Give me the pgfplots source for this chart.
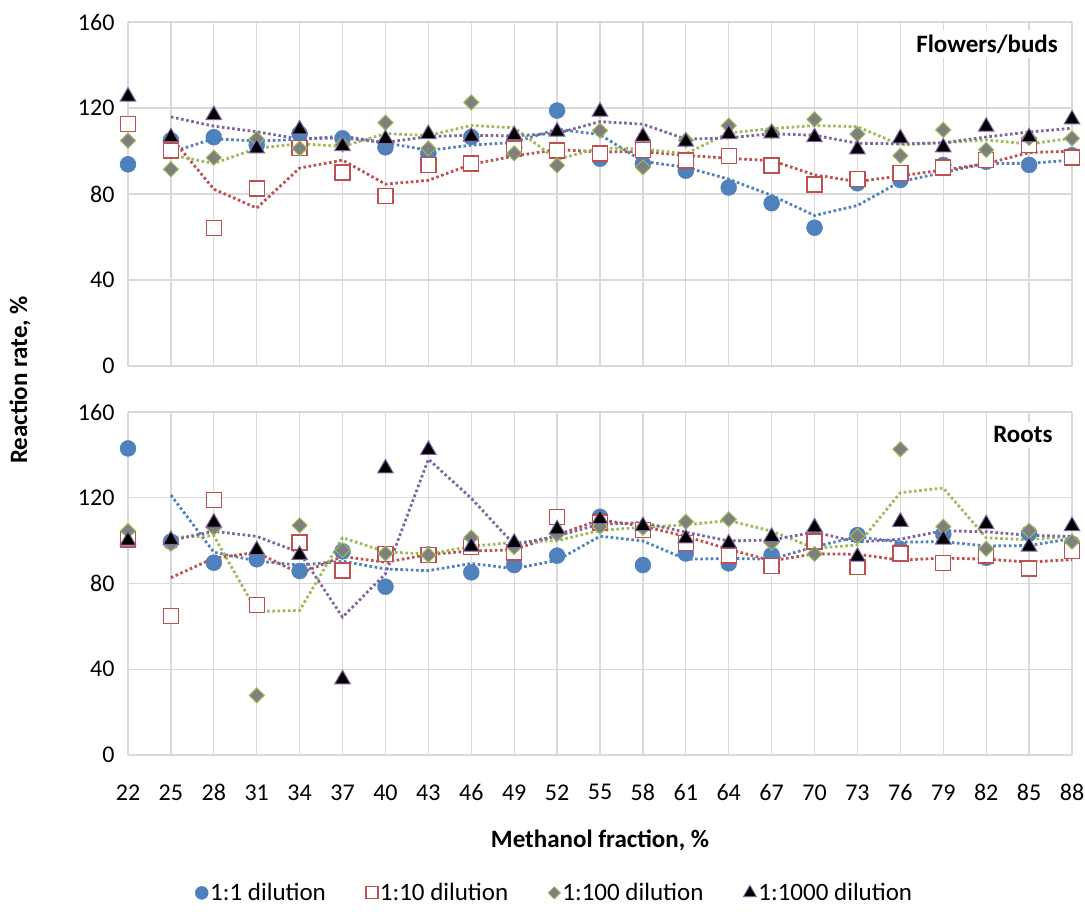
\documentclass[border=0pt]{standalone}
\usepackage{fontspec}
\setmainfont{Carlito}
\usepackage{pgfplots}
\usepackage{pgfplotstable}
\pgfplotsset{compat=1.18}
\definecolor{cblue}{HTML}{4F81BD}
\definecolor{cred}{HTML}{C0504D}
\definecolor{cgreen}{HTML}{9BBB59}
\definecolor{cpurple}{HTML}{8064A2}
\definecolor{cgray}{HTML}{7F7F7F}
\definecolor{gridc}{HTML}{D9D9D9}

% Flowers/buds
\pgfplotstableread{
x a b c d
22 93.8 112.6 104.8 125.3
25 105 100.2 91.5 106.4
28 106.4 64.3 96.9 116.7
31 102.8 82.6 105.6 101.2
34 108 101.5 101.2 110
37 105.9 90 103 102.3
40 101.7 79.2 113.2 105.6
43 98.9 93.5 101.2 107.9
46 106.5 94.1 122.6 106.7
49 101.5 101.2 98.9 107.4
52 118.8 100.2 93.3 109
55 96.4 98.9 109.5 118.3
58 94 100.5 92.4 106.7
61 90.8 95.5 105 104.3
64 83 97.7 111.8 107.9
67 75.7 93.3 109 108.2
70 64.3 84.5 114.7 106.4
73 85 87 107.9 100.8
76 86.5 89.9 97.8 105.9
79 93.5 92.4 109.8 101.7
82 95 95.8 100.5 111.3
85 93.5 102.8 106 106.4
88 98 97 105.9 114.7
}\topdata
% 2-period moving averages (Flowers/buds)
\pgfplotstableread{
x a b c d
25 99.4 106.4 98.15 115.85
28 105.7 82.25 94.2 111.55
31 104.6 73.45 101.25 108.95
34 105.4 92.05 103.4 105.6
37 106.95 95.75 102.1 106.15
40 103.8 84.6 108.1 103.95
43 100.3 86.35 107.2 106.75
46 102.7 93.8 111.9 107.3
49 104 97.65 110.75 107.05
52 110.15 100.7 96.1 108.2
55 107.6 99.55 101.4 113.65
58 95.2 99.7 100.95 112.5
61 92.4 98 98.7 105.5
64 86.9 96.6 108.4 106.1
67 79.35 95.5 110.4 108.05
70 70 88.9 111.85 107.3
73 74.65 85.75 111.3 103.6
76 85.75 88.45 102.85 103.35
79 90 91.15 103.8 103.8
82 94.25 94.1 105.15 106.5
85 94.25 99.3 103.25 108.85
88 95.75 99.9 105.95 110.55
}\topma
% Roots
\pgfplotstableread{
x a b c d
22 143 100.6 104.5 100
25 99.5 64.8 98.5 100.3
28 89.7 118.9 106 108.4
31 91.3 70.1 27.8 95.6
34 85.8 99.2 107.1 93.3
37 95 86 95.6 35.3
40 78.5 93.8 94 133.7
43 93.5 93.3 93.3 142.3
46 85.2 97 101.4 97.2
49 88.6 94.4 97 99
52 93 110.9 103 105.3
55 111.1 108.5 106.5 110
58 88.6 105 106 106.8
61 94 99 108.8 101
64 89.4 93 109.9 98.7
67 93.3 88.2 99 101.8
70 101 99.5 93.8 106.2
73 102.6 87.8 102.1 92.5
76 96 94 142.6 108.8
79 103 89.7 106.5 100.5
82 92 93 96.2 107.7
85 103.4 87 104.6 97.2
88 98.5 95.3 99.5 106.8
}\botdata
\pgfplotstableread{
x a b c d
25 121.25 82.7 101.5 100.15
28 94.6 91.85 102.25 104.35
31 90.5 94.5 66.9 102
34 88.55 84.65 67.45 94.45
37 90.4 92.6 101.35 64.3
40 86.75 89.9 94.8 84.5
43 86 93.55 93.65 138
46 89.35 95.15 97.35 119.75
49 86.9 95.7 99.2 98.1
52 90.8 102.65 100 102.15
55 102.05 109.7 104.75 107.65
58 99.85 106.75 106.25 108.4
61 91.3 102 107.4 103.9
64 91.7 96 109.35 99.85
67 91.35 90.6 104.45 100.25
70 97.15 93.85 96.4 104
73 101.8 93.65 97.95 99.35
76 99.3 90.9 122.35 100.65
79 99.5 91.85 124.55 104.65
82 97.5 91.35 101.35 104.1
85 97.7 90 100.4 102.45
88 100.95 91.15 102.05 102
}\botma

\pgfplotsset{
  common/.style={
    scale only axis, width=944pt, height=344pt,
    xmin=22, xmax=88, ymin=0, ymax=160,
    xtick={22,25,...,88}, ytick={0,40,...,160},
    grid=major, major grid style={draw=gridc, line width=1.3pt},
    axis line style={draw=none}, tick style={draw=none},
    /pgf/number format/assume math mode=true,
    tick label style={font=\fontsize{24}{28}\selectfont, text=black},
    yticklabel style={xshift=-10pt},
    clip=false,
  },
  s1/.style={only marks, mark=*, mark size=8pt, mark options={fill=cblue, draw=cblue}},
  s2/.style={only marks, mark=square*, mark size=7.5pt, mark options={fill=white, draw=cred, line width=1.4pt}},
  s3/.style={only marks, mark=square*, mark size=5.3pt, mark options={rotate=45, fill=cgray, draw=cgreen, line width=1pt}},
  s4/.style={only marks, mark=triangle*, mark size=9pt, mark options={fill=black, draw=cpurple, line width=1pt}},
  tr/.style={no marks, line width=2.8pt, dash pattern=on 2.6pt off 2.6pt, #1},
}

\begin{document}
\begin{tikzpicture}
\useasboundingbox (0pt,0pt) rectangle (1085pt,911pt);
\begin{axis}[common, at={(128pt,545pt)}, anchor=south west, xticklabels=\empty]
\addplot[s1] table[x=x,y=a] {\topdata};
\addplot[s2] table[x=x,y=b] {\topdata};
\addplot[s3] table[x=x,y=c] {\topdata};
\addplot[s4] table[x=x,y=d] {\topdata};
\addplot[tr=cblue] table[x=x,y=a] {\topma};
\addplot[tr=cred] table[x=x,y=b] {\topma};
\addplot[tr=cgreen] table[x=x,y=c] {\topma};
\addplot[tr=cpurple] table[x=x,y=d] {\topma};
\node[fill=white, inner sep=5pt, font=\bfseries\fontsize{25}{30}\selectfont] at (rel axis cs:0.91,0.936) {Flowers/buds};
\end{axis}
\begin{axis}[common, height=343pt, at={(128pt,156pt)}, anchor=south west,
  xticklabel style={yshift=-26pt},
  legend columns=4,
  legend style={draw=none, at={(rel axis cs:0.452,-0.402)}, anchor=center,
    font=\fontsize{25}{30}\selectfont, inner sep=0pt,
    /tikz/every even column/.append style={column sep=38pt}},
  legend cell align=left]
\addplot[s1, forget plot] table[x=x,y=a] {\botdata};
\addplot[s2, forget plot] table[x=x,y=b] {\botdata};
\addplot[s3, forget plot] table[x=x,y=c] {\botdata};
\addplot[s4, forget plot] table[x=x,y=d] {\botdata};
\addplot[tr=cblue, forget plot] table[x=x,y=a] {\botma};
\addplot[tr=cred, forget plot] table[x=x,y=b] {\botma};
\addplot[tr=cgreen, forget plot] table[x=x,y=c] {\botma};
\addplot[tr=cpurple, forget plot] table[x=x,y=d] {\botma};
\addlegendimage{only marks, mark=*, mark size=6.5pt, mark options={fill=cblue, draw=cblue}}
\addlegendentry{1:1 dilution}
\addlegendimage{only marks, mark=square*, mark size=6pt, mark options={fill=white, draw=cred, line width=1.2pt}}
\addlegendentry{1:10 dilution}
\addlegendimage{only marks, mark=square*, mark size=4.3pt, mark options={rotate=45, fill=cgray, draw=cgreen, line width=0.8pt}}
\addlegendentry{1:100 dilution}
\addlegendimage{only marks, mark=triangle*, mark size=7.5pt, mark options={fill=black, draw=cpurple, line width=0.8pt}}
\addlegendentry{1:1000 dilution}
\node[fill=white, inner sep=5pt, font=\bfseries\fontsize{25}{30}\selectfont] at (rel axis cs:0.948,0.933) {Roots};
\end{axis}
\node[rotate=90, font=\bfseries\fontsize{25}{30}\selectfont] at (20pt,531pt) {Reaction rate, \%};
\node[font=\bfseries\fontsize{25}{30}\selectfont] at (600pt,71pt) {Methanol fraction, \%};
\end{tikzpicture}
\end{document}
